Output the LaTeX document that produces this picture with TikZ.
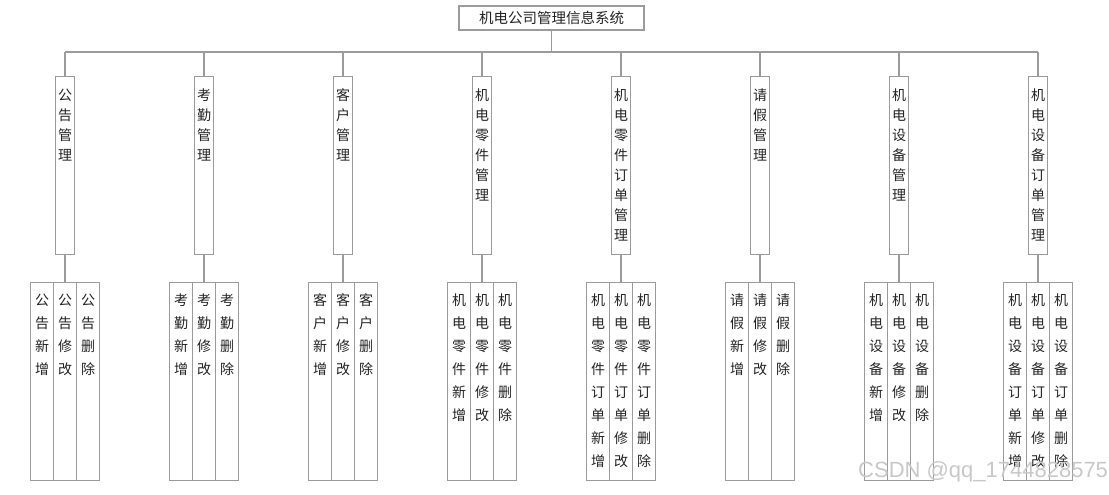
\documentclass[tikz,border=0pt]{standalone}
\usepackage{fontspec}
\setmainfont{Noto Sans CJK SC}
\newfontfamily\wmfont{Liberation Sans}
\definecolor{linec}{RGB}{155,155,155}
\definecolor{textc}{RGB}{35,35,35}
\definecolor{wmc}{RGB}{200,200,200}
\begin{document}
\begin{tikzpicture}[x=1pt,y=-1pt,
  conn/.style={draw=linec, line width=1.1pt},
  topbox/.style={draw=linec, line width=1.1pt, minimum width=185pt, minimum height=24pt, inner sep=0pt, font=\fontsize{14.5}{17}\selectfont, text=textc},
  tallbox/.style={draw=linec, line width=1.1pt, minimum width=19pt, minimum height=178pt, inner sep=0pt, anchor=north},
  smallbox/.style={draw=linec, line width=1.1pt, minimum width=23pt, minimum height=198pt, inner sep=0pt, anchor=north},
  talltext/.style={anchor=north, inner sep=0pt, align=center, text=textc, font=\fontsize{14}{20}\selectfont},
  smalltext/.style={anchor=north, inner sep=0pt, align=center, text=textc, font=\fontsize{14}{23}\selectfont},
  wmstyle/.style={anchor=base west, inner sep=0pt, text=wmc, font=\wmfont\fontsize{22}{22}\selectfont}]
\useasboundingbox (0,0) rectangle (1109,495);

\node[topbox] (top) at (551.5,18) {机电公司管理信息系统};

\foreach \i/\t/\a/\b/\c in {
  1/{公\\告\\管\\理}/{公\\告\\新\\增}/{公\\告\\修\\改}/{公\\告\\删\\除},
  2/{考\\勤\\管\\理}/{考\\勤\\新\\增}/{考\\勤\\修\\改}/{考\\勤\\删\\除},
  3/{客\\户\\管\\理}/{客\\户\\新\\增}/{客\\户\\修\\改}/{客\\户\\删\\除},
  4/{机\\电\\零\\件\\管\\理}/{机\\电\\零\\件\\新\\增}/{机\\电\\零\\件\\修\\改}/{机\\电\\零\\件\\删\\除},
  5/{机\\电\\零\\件\\订\\单\\管\\理}/{机\\电\\零\\件\\订\\单\\新\\增}/{机\\电\\零\\件\\订\\单\\修\\改}/{机\\电\\零\\件\\订\\单\\删\\除},
  6/{请\\假\\管\\理}/{请\\假\\新\\增}/{请\\假\\修\\改}/{请\\假\\删\\除},
  7/{机\\电\\设\\备\\管\\理}/{机\\电\\设\\备\\新\\增}/{机\\电\\设\\备\\修\\改}/{机\\电\\设\\备\\删\\除},
  8/{机\\电\\设\\备\\订\\单\\管\\理}/{机\\电\\设\\备\\订\\单\\新\\增}/{机\\电\\设\\备\\订\\单\\修\\改}/{机\\电\\设\\备\\订\\单\\删\\除}}{
  \pgfmathsetmacro\cx{65+139*(\i-1)}
  \coordinate (bus\i) at (\cx,52);
  \node[tallbox] (m\i) at (\cx,76) {};
  \node[talltext] (mt\i) at (\cx,88.5) {\t};
  \node[smallbox] (sa\i) at (\cx-23,282) {};
  \node[smallbox] (sb\i) at (\cx,282) {};
  \node[smallbox] (sc\i) at (\cx+23,282) {};
  \node[smalltext] (ta\i) at (\cx-23,293.5) {\a};
  \node[smalltext] (tb\i) at (\cx,293.5) {\b};
  \node[smalltext] (tc\i) at (\cx+23,293.5) {\c};
  \draw[conn] (bus\i) -- (m\i.north);
  \draw[conn] (m\i.south) -- (sb\i.north);
}
\draw[conn] (bus1) -- (bus8);
\draw[conn] (top.south) -- (top.south |- bus1);

\node[wmstyle] (wm) at (858,477) {CSDN @qq\_1744828575};
\end{tikzpicture}
\end{document}
